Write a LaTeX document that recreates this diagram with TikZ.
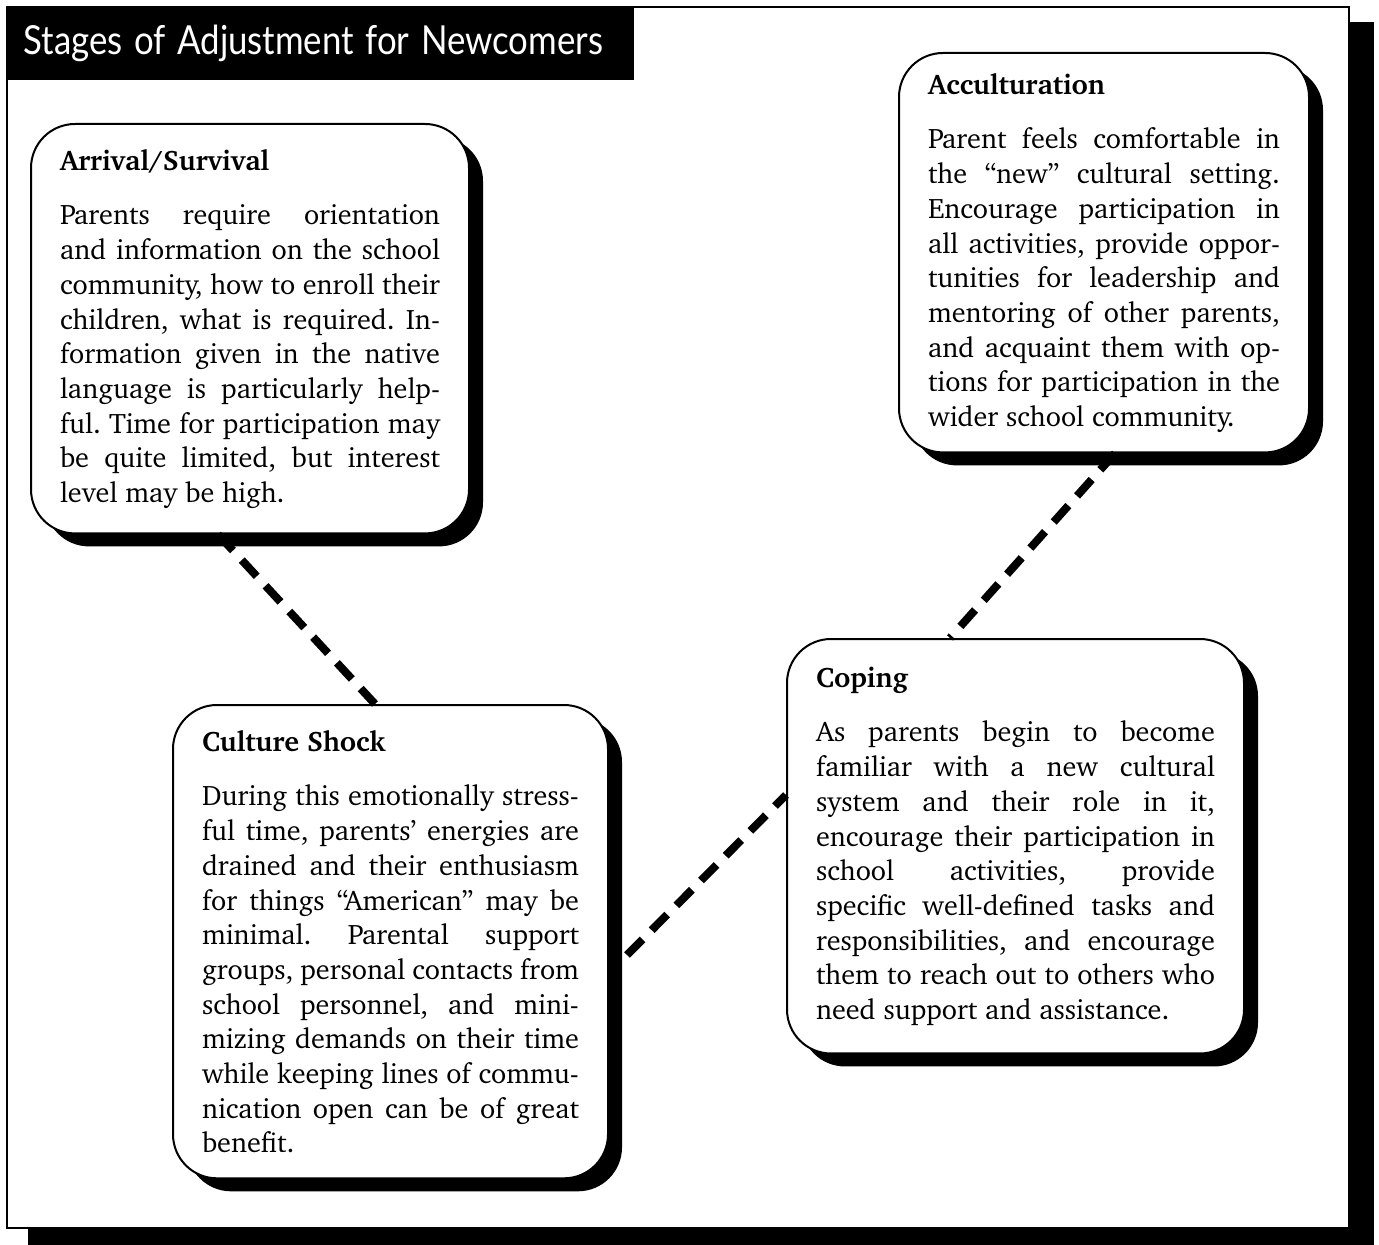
\documentclass[tikz,border=0pt]{standalone}
\usepackage{fontspec}
\newfontfamily\titlefont{Lato}
\usepackage[T1]{fontenc}
\usepackage{charter}
\usetikzlibrary{shadows,calc}

\tikzset{
  stage/.style={draw, line width=1pt, fill=white, rounded corners=22pt,
    anchor=north west, inner xsep=14.5pt, inner ysep=12.5pt, align=justify,
    font=\fontsize{14.1}{17.35}\selectfont,
    execute at begin node={\frenchspacing\hyphenpenalty=10000\relax\exhyphenpenalty=10000\relax
      \spaceskip=0.28em plus 0.6em minus 0.12em\relax},
    drop shadow={shadow xshift=7pt, shadow yshift=-6.5pt, opacity=1, fill=black}},
  link/.style={line width=4pt, dash pattern=on 11pt off 6.5pt}
}
\newcommand{\stagehead}[1]{\textbf{#1}\par\vspace{10pt}}

\begin{document}
\begin{tikzpicture}[x=0.5pt, y=-0.5pt]
    \useasboundingbox[fill=white] (0,0) rectangle (1379,1245);

    % Frame with its shadow
    \fill (1349,22) rectangle (1374,1245);
    \fill (28,1228) rectangle (1374,1245);
    \draw[line width=1pt] (7,7) rectangle (1349,1228);

    % Title
    \node[fill=black, anchor=north west, minimum width=313.5pt, minimum height=36.5pt,
          inner xsep=8pt, text width=297.5pt, text=white,
          font=\titlefont\fontsize{20}{24}\selectfont] (title) at (7,7)
          {\scalebox{0.87}[1]{Stages of Adjustment for Newcomers}};

    % Stages
    \node[stage, text width=190pt] (arr) at (30,123) {\stagehead{Arrival/Survival}%
      Parents require orientation\linebreak
      and information on the school\linebreak
      community, how to enroll their\linebreak
      children, what is required. In-\linebreak
      formation given in the native\linebreak
      language is particularly help-\linebreak
      ful. Time for participation may\linebreak
      be quite limited, but interest\linebreak
      level may be high.};

    \node[stage, text width=176pt, inner ysep=10pt] (acc) at (898,52) {\stagehead{Acculturation}%
      Parent feels comfortable in\linebreak
      the ``new'' cultural setting.\linebreak
      Encourage participation in\linebreak
      all activities, provide oppor-\linebreak
      tunities for leadership and\linebreak
      mentoring of other parents,\linebreak
      and acquaint them with op-\linebreak
      tions for participation in the\linebreak
      wider school community.};

    \node[stage, text width=188.5pt] (cul) at (172,704) {\stagehead{Culture Shock}%
      During this emotionally stress-\linebreak
      ful time, parents' energies are\linebreak
      drained and their enthusiasm\linebreak
      for things ``American'' may be\linebreak
      minimal. Parental support\linebreak
      groups, personal contacts from\linebreak
      school personnel, and mini-\linebreak
      mizing demands on their time\linebreak
      while keeping lines of commu-\linebreak
      nication open can be of great\linebreak
      benefit.};

    \node[stage, text width=199.5pt, inner ysep=14pt] (cop) at (786,638) {\stagehead{Coping}%
      As parents begin to become\linebreak
      familiar with a new cultural\linebreak
      system and their role in it,\linebreak
      encourage their participation in\linebreak
      school activities, provide\linebreak
      specific well-defined tasks and\linebreak
      responsibilities, and encourage\linebreak
      them to reach out to others who\linebreak
      need support and assistance.};

    % Dashed links
    \draw[link] ($(arr.south west)+(188,0)$) -- ($(cul.north west)+(203,0)$);
    \draw[link] ($(acc.south west)+(217,0)$) -- ($(cop.north west)+(164,0)$);
    \draw[link] ($(cul.north east)+(18,251)$) -- ($(cop.north west)+(0,157)$);
\end{tikzpicture}
\end{document}
